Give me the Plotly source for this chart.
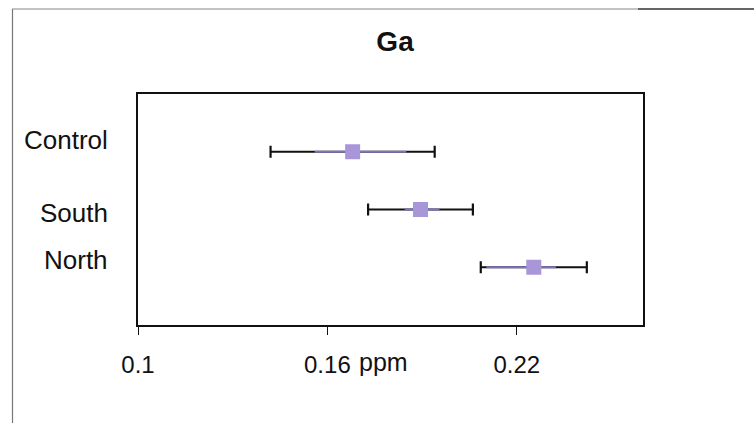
import plotly.graph_objects as go

categories = ["Control", "South", "North"]
means = [0.168, 0.1895, 0.2254]
err_black = [0.026, 0.0166, 0.0168]
err_purple_minus = [0.012, 0.005, 0.015]
err_purple_plus = [0.017, 0.006, 0.007]
x_ticks = [0.1, 0.16, 0.22]
x_ticktext = ["0.1", "0.16", "0.22"]
label_shift = [12, -3, 7]

FONT = "Liberation Sans, Arial, sans-serif"

fig = go.Figure()
fig.add_trace(go.Scatter(
    x=means, y=categories, mode="markers",
    marker=dict(symbol="square", size=15, color="rgba(0,0,0,0)"),
    error_x=dict(type="data", array=err_black, symmetric=True,
                 color="#111111", thickness=2.2, width=6),
    showlegend=False, hoverinfo="skip"))
fig.add_trace(go.Scatter(
    x=means, y=categories, mode="markers",
    marker=dict(symbol="square", size=15, color="#a896d8",
                line=dict(width=0)),
    error_x=dict(type="data", array=err_purple_plus,
                 arrayminus=err_purple_minus, symmetric=False,
                 color="#7f70c0", thickness=2, width=0),
    showlegend=False))

fig.update_layout(
    width=754, height=423,
    margin=dict(l=138, r=111, t=94, b=98),
    paper_bgcolor="white", plot_bgcolor="white",
    font=dict(family=FONT, color="#111111"),
    title=dict(text="<b>Ga</b>", x=0.509, xref="paper", xanchor="center",
               y=1 - 41 / 423, yanchor="middle",
               font=dict(size=28, family=FONT, color="#111111")),
    xaxis=dict(range=[0.1, 0.26], tickvals=x_ticks, ticktext=x_ticktext,
               showgrid=False, zeroline=False, showline=True,
               linecolor="#111111", linewidth=2, mirror=True,
               ticks="outside", ticklen=8, tickwidth=1, tickcolor="#111111",
               ticklabelstandoff=9,
               tickfont=dict(size=24, family=FONT, color="#111111")),
    yaxis=dict(type="category", categoryorder="array",
               categoryarray=categories[::-1], range=[-1, 3],
               showgrid=False, zeroline=False, showline=True,
               linecolor="#111111", linewidth=2, mirror=True,
               showticklabels=False, ticks=""),
)

for cat, sh in zip(categories, label_shift):
    fig.add_annotation(x=(110 - 138) / 505, xref="paper", y=cat, yref="y",
                       text=cat, showarrow=False, xanchor="right",
                       yanchor="middle", yshift=sh,
                       font=dict(size=26, family=FONT, color="#111111"))

fig.add_annotation(x=(357 - 138) / 505, xref="paper",
                   y=(325 - 362) / 231, yref="paper",
                   text="ppm", showarrow=False, xanchor="left",
                   yanchor="middle",
                   font=dict(size=25, family=FONT, color="#111111"))

# outer frame lines of the scanned figure
fig.add_shape(type="line", xref="paper", yref="paper",
              x0=(12.5 - 138) / 505, x1=(12.5 - 138) / 505,
              y0=(325 - 9) / 231, y1=(325 - 423) / 231,
              line=dict(color="#777777", width=1.2))
fig.add_shape(type="line", xref="paper", yref="paper",
              x0=(12 - 138) / 505, x1=(638 - 138) / 505,
              y0=(325 - 9) / 231, y1=(325 - 9) / 231,
              line=dict(color="#888888", width=1.2))
fig.add_shape(type="line", xref="paper", yref="paper",
              x0=(638 - 138) / 505, x1=(754 - 138) / 505,
              y0=(325 - 9) / 231, y1=(325 - 9) / 231,
              line=dict(color="#333333", width=1.5))

fig.write_html("out.html")
